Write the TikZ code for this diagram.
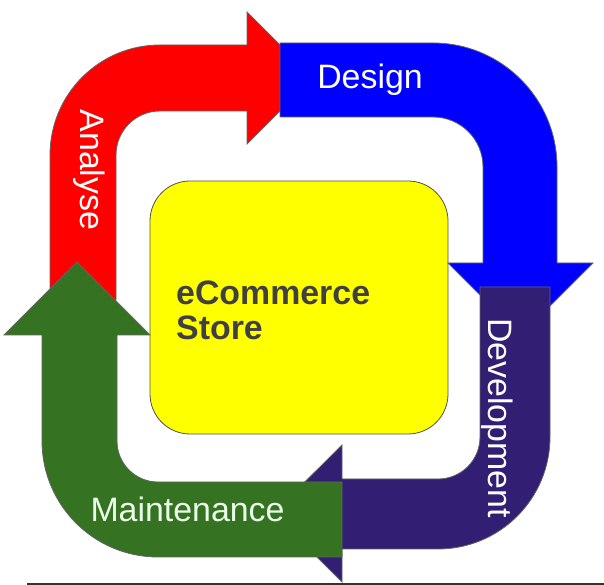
\documentclass[tikz,border=0pt]{standalone}
\usepackage{fontspec}
\setmainfont{Liberation Sans}
\definecolor{redA}{RGB}{255,0,0}
\definecolor{blueD}{RGB}{0,0,255}
\definecolor{purpleD}{RGB}{50,30,115}
\definecolor{greenM}{RGB}{53,114,33}
\definecolor{yellowS}{RGB}{255,255,0}
\definecolor{edgeG}{RGB}{100,100,100}
\definecolor{darktext}{RGB}{64,64,64}
\tikzset{
  band/.style={draw=edgeG, line width=0.8pt, line join=miter},
  bandlabel/.style={text=white, font=\fontsize{34}{36}\selectfont, inner sep=0pt},
  storebox/.style={fill=yellowS, draw=edgeG!80!black, line width=0.8pt, rounded corners=40bp},
}
\begin{document}
\begin{tikzpicture}[x=1bp,y=1bp]
\useasboundingbox (0,0) rectangle (604,585);
% yellow box
\draw[storebox] (150,151) rectangle (448,404);
% red arrow (Analyse)
\path[band, fill=redA] (50,285) -- (50,430) arc[start angle=180, end angle=90, radius=110]
  -- (247,540) -- (247,573) -- (313,507) -- (247,441) -- (247,474) -- (160,474)
  arc[start angle=90, end angle=180, radius=44] -- (116,285) -- cycle;
% blue arrow (Design)
\path[band, fill=blueD] (280,542) -- (433,542) arc[start angle=90, end angle=0, radius=124]
  -- (557,322) -- (593,322) -- (520.5,249.5) -- (448,322) -- (483,322) -- (483,418)
  arc[start angle=0, end angle=90, radius=50] -- (280,468) -- cycle;
% purple arrow (Development)
\path[band, fill=purpleD] (480,298) -- (550,298) -- (550,148)
  arc[start angle=0, end angle=-90, radius=112] -- (342,36) -- (342,3) -- (273,71.5)
  -- (342,140) -- (342,106) -- (438,106) arc[start angle=-90, end angle=0, radius=42]
  -- cycle;
% green arrow (Maintenance)
\path[band, fill=greenM] (342,103) -- (158,103) arc[start angle=270, end angle=180, radius=41]
  -- (117,250) -- (150,250) -- (77,323) -- (4,250) -- (42,250) -- (42,144)
  arc[start angle=180, end angle=270, radius=116] -- (342,28) -- cycle;
% labels
\node[bandlabel, rotate=-90, anchor=base] (analyse) at (80,415) {Analyse};
\node[bandlabel, anchor=base] (design) at (370,496) {Design};
\node[bandlabel, rotate=-90, anchor=base] (development) at (488,167) {Development};
\node[bandlabel, text=white!92!green, anchor=base] (maintenance) at (187.5,63) {Maintenance};
\node[text=darktext, font=\bfseries\fontsize{34}{35}\selectfont, align=left, anchor=west, inner sep=0pt] (store) at (176,274.75) {eCommerce\\Store};
% bottom rule
\coordinate (ruleL) at (27,1.2);
\coordinate (ruleR) at (604,1.2);
\draw[line width=2.4bp, draw=black!80] (ruleL) -- (ruleR);
\end{tikzpicture}
\end{document}
